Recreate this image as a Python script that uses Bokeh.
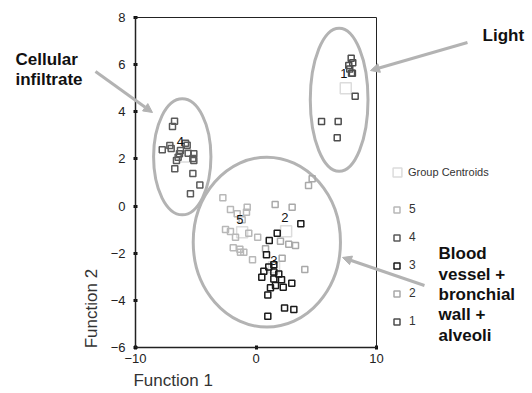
import math
from bokeh.plotting import figure
from bokeh.models import (Range1d, FixedTicker, Label, Arrow, NormalHead, Legend, LegendItem,
                          LinearAxis, BoxAnnotation)
from bokeh.core.properties import value
from bokeh.embed import file_html
from bokeh.resources import INLINE

# ---- data ----
g1_x = [7.9, 8.03, 7.7, 7.78, 7.93, 8.0, 8.23, 5.44, 6.82, 6.74]
g1_y = [6.27, 6.08, 5.96, 5.82, 5.64, 5.64, 4.66, 3.59, 3.59, 2.9]

g2_x = [1.59, 3.0, 2.03, 2.72, 3.28, 0.79, 2.17, 4.05, 4.36, 4.66]
g2_y = [0.07, -0.05, -1.49, -1.62, -1.67, -1.81, -2.21, -2.69, 0.87, 1.16]

g3_x = [3.72, 1.76, 1.1, 0.87, 1.06, 1.48, 0.65, 0.48, 1.48, 1.89,
        1.48, 2.12, 1.62, 1.2, 2.26, 2.97, 0.98, 2.37, 3.14, 0.98]
g3_y = [-0.75, -1.15, -1.46, -2.06, -2.59, -2.49, -2.76, -3.02, -2.8, -2.88,
        -3.09, -3.13, -3.37, -3.47, -3.44, -3.27, -3.77, -4.32, -4.39, -4.67]

g4_x = [-6.76, -6.93, -7.78, -7.15, -7.04, -6.27, -5.85, -5.71, -6.35, -6.46,
        -6.6, -5.63, -5.16, -5.24, -5.16, -6.74, -5.24, -4.66, -5.44]
g4_y = [3.6, 3.38, 2.39, 2.57, 2.44, 2.36, 2.67, 2.58, 2.22, 2.07,
        1.93, 2.24, 2.22, 2.02, 1.93, 1.58, 1.38, 0.89, 0.52]

g5_x = [-2.75, -2.12, -1.56, -0.73, -0.79, -2.53, -2.12, -1.7, -0.6, 0.14,
        -1.89, -1.34, -1.29, -1.01, -0.29, -1.15]
g5_y = [0.35, -0.15, -0.33, -0.05, -0.26, -0.99, -1.08, -1.32, -1.15, -1.32,
        -1.77, -1.83, -1.96, -1.96, -2.28, -0.58]

group_names = ["1", "2", "3", "4", "5"]
centroid_x = [7.45, 2.5, 1.5, -5.85, -1.15]
centroid_y = [5.0, -1.07, -2.6, 2.1, -1.11]
centroid_label_x = [7.29, 2.39, 1.48, -6.27, -1.34]
centroid_label_y = [5.64, -0.47, -2.31, 2.75, -0.57]

x_ticks = [-10, 0, 10]
y_ticks = [-6, -4, -2, 0, 2, 4, 6, 8]
x_lim = (-10, 10)
y_lim = (-6, 8)

# ---- figure: the frame covers the whole canvas, axes are pinned at the data limits ----
W, H = 532, 393
FL, FR, FT, FB = 135, 376, 17, 347          # pixel box of the plotting area
xs_ = (FR - FL) / (x_lim[1] - x_lim[0])
ys_ = (FB - FT) / (y_lim[1] - y_lim[0])
xr = Range1d(x_lim[0] - FL / xs_, x_lim[1] + (W - FR) / xs_)
yr = Range1d(y_lim[0] - (H - FB) / ys_, y_lim[1] + FT / ys_)

FONT = "Liberation Sans"
p = figure(width=W, height=H, x_range=xr, y_range=yr, output_backend="svg",
           toolbar_location=None, x_axis_location=None, y_axis_location=None,
           min_border=0, min_border_left=0, min_border_right=0, min_border_top=0,
           min_border_bottom=0)
p.background_fill_color = "white"
p.border_fill_color = "white"
p.outline_line_color = None
p.grid.visible = False

xaxis = LinearAxis(fixed_location=y_lim[0], bounds=x_lim, ticker=FixedTicker(ticks=x_ticks))
yaxis = LinearAxis(fixed_location=x_lim[0], bounds=y_lim, ticker=FixedTicker(ticks=y_ticks))
for ax in (xaxis, yaxis):
    ax.minor_tick_line_color = None
    ax.major_tick_in = 2
    ax.major_tick_out = 2
    ax.major_tick_line_width = 3
    ax.major_tick_line_color = "#111111"
    ax.axis_line_color = "#222222"
    ax.axis_line_width = 1.5
    ax.major_label_text_font = FONT
    ax.major_label_text_font_size = "13px"
    ax.major_label_text_color = "#222222"
xaxis.major_label_standoff = 4
yaxis.major_label_standoff = 8
p.add_layout(xaxis, "below")
p.add_layout(yaxis, "left")

# frame border (top and right edges)
p.add_layout(BoxAnnotation(left=x_lim[0], right=x_lim[1], bottom=y_lim[0], top=y_lim[1],
                           fill_color=None, fill_alpha=0, line_color="#222222",
                           line_alpha=1.0, line_width=1))

# ellipses (group outlines)
ell_x = [6.9, -6.12, 0.9]
ell_y = [4.51, 2.09, -1.53]
ell_w = [4.79, 4.76, 12.22]
ell_h = [6.07, 4.92, 7.21]
p.ellipse(x=ell_x, y=ell_y, width=ell_w, height=ell_h, fill_color=None,
          line_color="#b3b3b3", line_width=3)

# centroids
rc = p.scatter(centroid_x, centroid_y, marker="square", size=11, fill_color=None,
               line_color="#dcdcdc", line_width=1.5)

colors = {"1": "#4d4d4d", "2": "#a9a9a9", "3": "#1a1a1a", "4": "#5a5a5a", "5": "#b8b8b8"}
series = {"1": (g1_x, g1_y), "2": (g2_x, g2_y), "3": (g3_x, g3_y), "4": (g4_x, g4_y), "5": (g5_x, g5_y)}
rends = {}
for g in ["5", "2", "4", "1", "3"]:
    gx, gy = series[g]
    rends[g] = p.scatter(gx, gy, marker="square", size=6, fill_color=None,
                         line_color=colors[g], line_width=1.5)

p.text(x=centroid_label_x, y=centroid_label_y, text=group_names,
       text_font=value(FONT), text_font_size="13px", text_color="#111111",
       text_align="center", text_baseline="middle")

# legends (location = bottom-left corner, pixels from the canvas bottom-left)
leg1 = Legend(items=[LegendItem(label="Group Centroids", renderers=[rc])],
              location=(386, 210), glyph_width=22, glyph_height=22, label_height=22,
              padding=0, margin=0, label_standoff=0, border_line_color=None,
              background_fill_alpha=0, label_text_font=FONT, label_text_font_size="11px",
              label_text_color="#333333")
p.add_layout(leg1)
leg2 = Legend(items=[LegendItem(label=g, renderers=[rends[g]]) for g in ["5", "4", "3", "2", "1"]],
              location=(389, 62), glyph_width=15, glyph_height=15, label_height=20,
              spacing=8, padding=0, margin=0, label_standoff=5, border_line_color=None,
              background_fill_alpha=0, label_text_font=FONT, label_text_font_size="12px",
              label_text_color="#333333")
p.add_layout(leg2)

# annotations
arrows = [(-13.32, 5.709, -8.59, 3.97), (17.55, 6.94, 9.5, 5.75), (13.98, -3.37, 7.18, -2.18)]
for xs0, ys0, xe, ye in arrows:
    p.add_layout(Arrow(x_start=xs0, y_start=ys0, x_end=xe, y_end=ye,
                       line_color="#b3b3b3", line_width=3,
                       end=NormalHead(size=9, fill_color="#b3b3b3", line_color="#b3b3b3")))

notes = [("Cellular", -19.96, 6.218), ("infiltrate", -19.96, 5.369), ("Light", 18.8, 7.239),
         ("Blood", 15.15, -2.013), ("vessel +", 15.15, -2.904), ("bronchial", 15.15, -3.753),
         ("wall +", 15.15, -4.601), ("alveoli", 15.15, -5.491)]
for t, lx, ly in notes:
    p.add_layout(Label(x=lx, y=ly, text=t, text_font=FONT, text_font_size="17px",
                       text_font_style="bold", text_color="#111111", text_baseline="alphabetic"))

p.add_layout(Label(x=-10.17, y=-7.40, text="Function 1", text_font=FONT, text_font_size="17px",
                   text_color="#333333", text_baseline="alphabetic"))
p.add_layout(Label(x=-13.65, y=-4.35, text="Function 2", text_font=FONT, text_font_size="17px",
                   text_color="#333333", text_align="center", text_baseline="middle",
                   angle=math.pi / 2))

open("out.html", "w").write(file_html(p, INLINE))
